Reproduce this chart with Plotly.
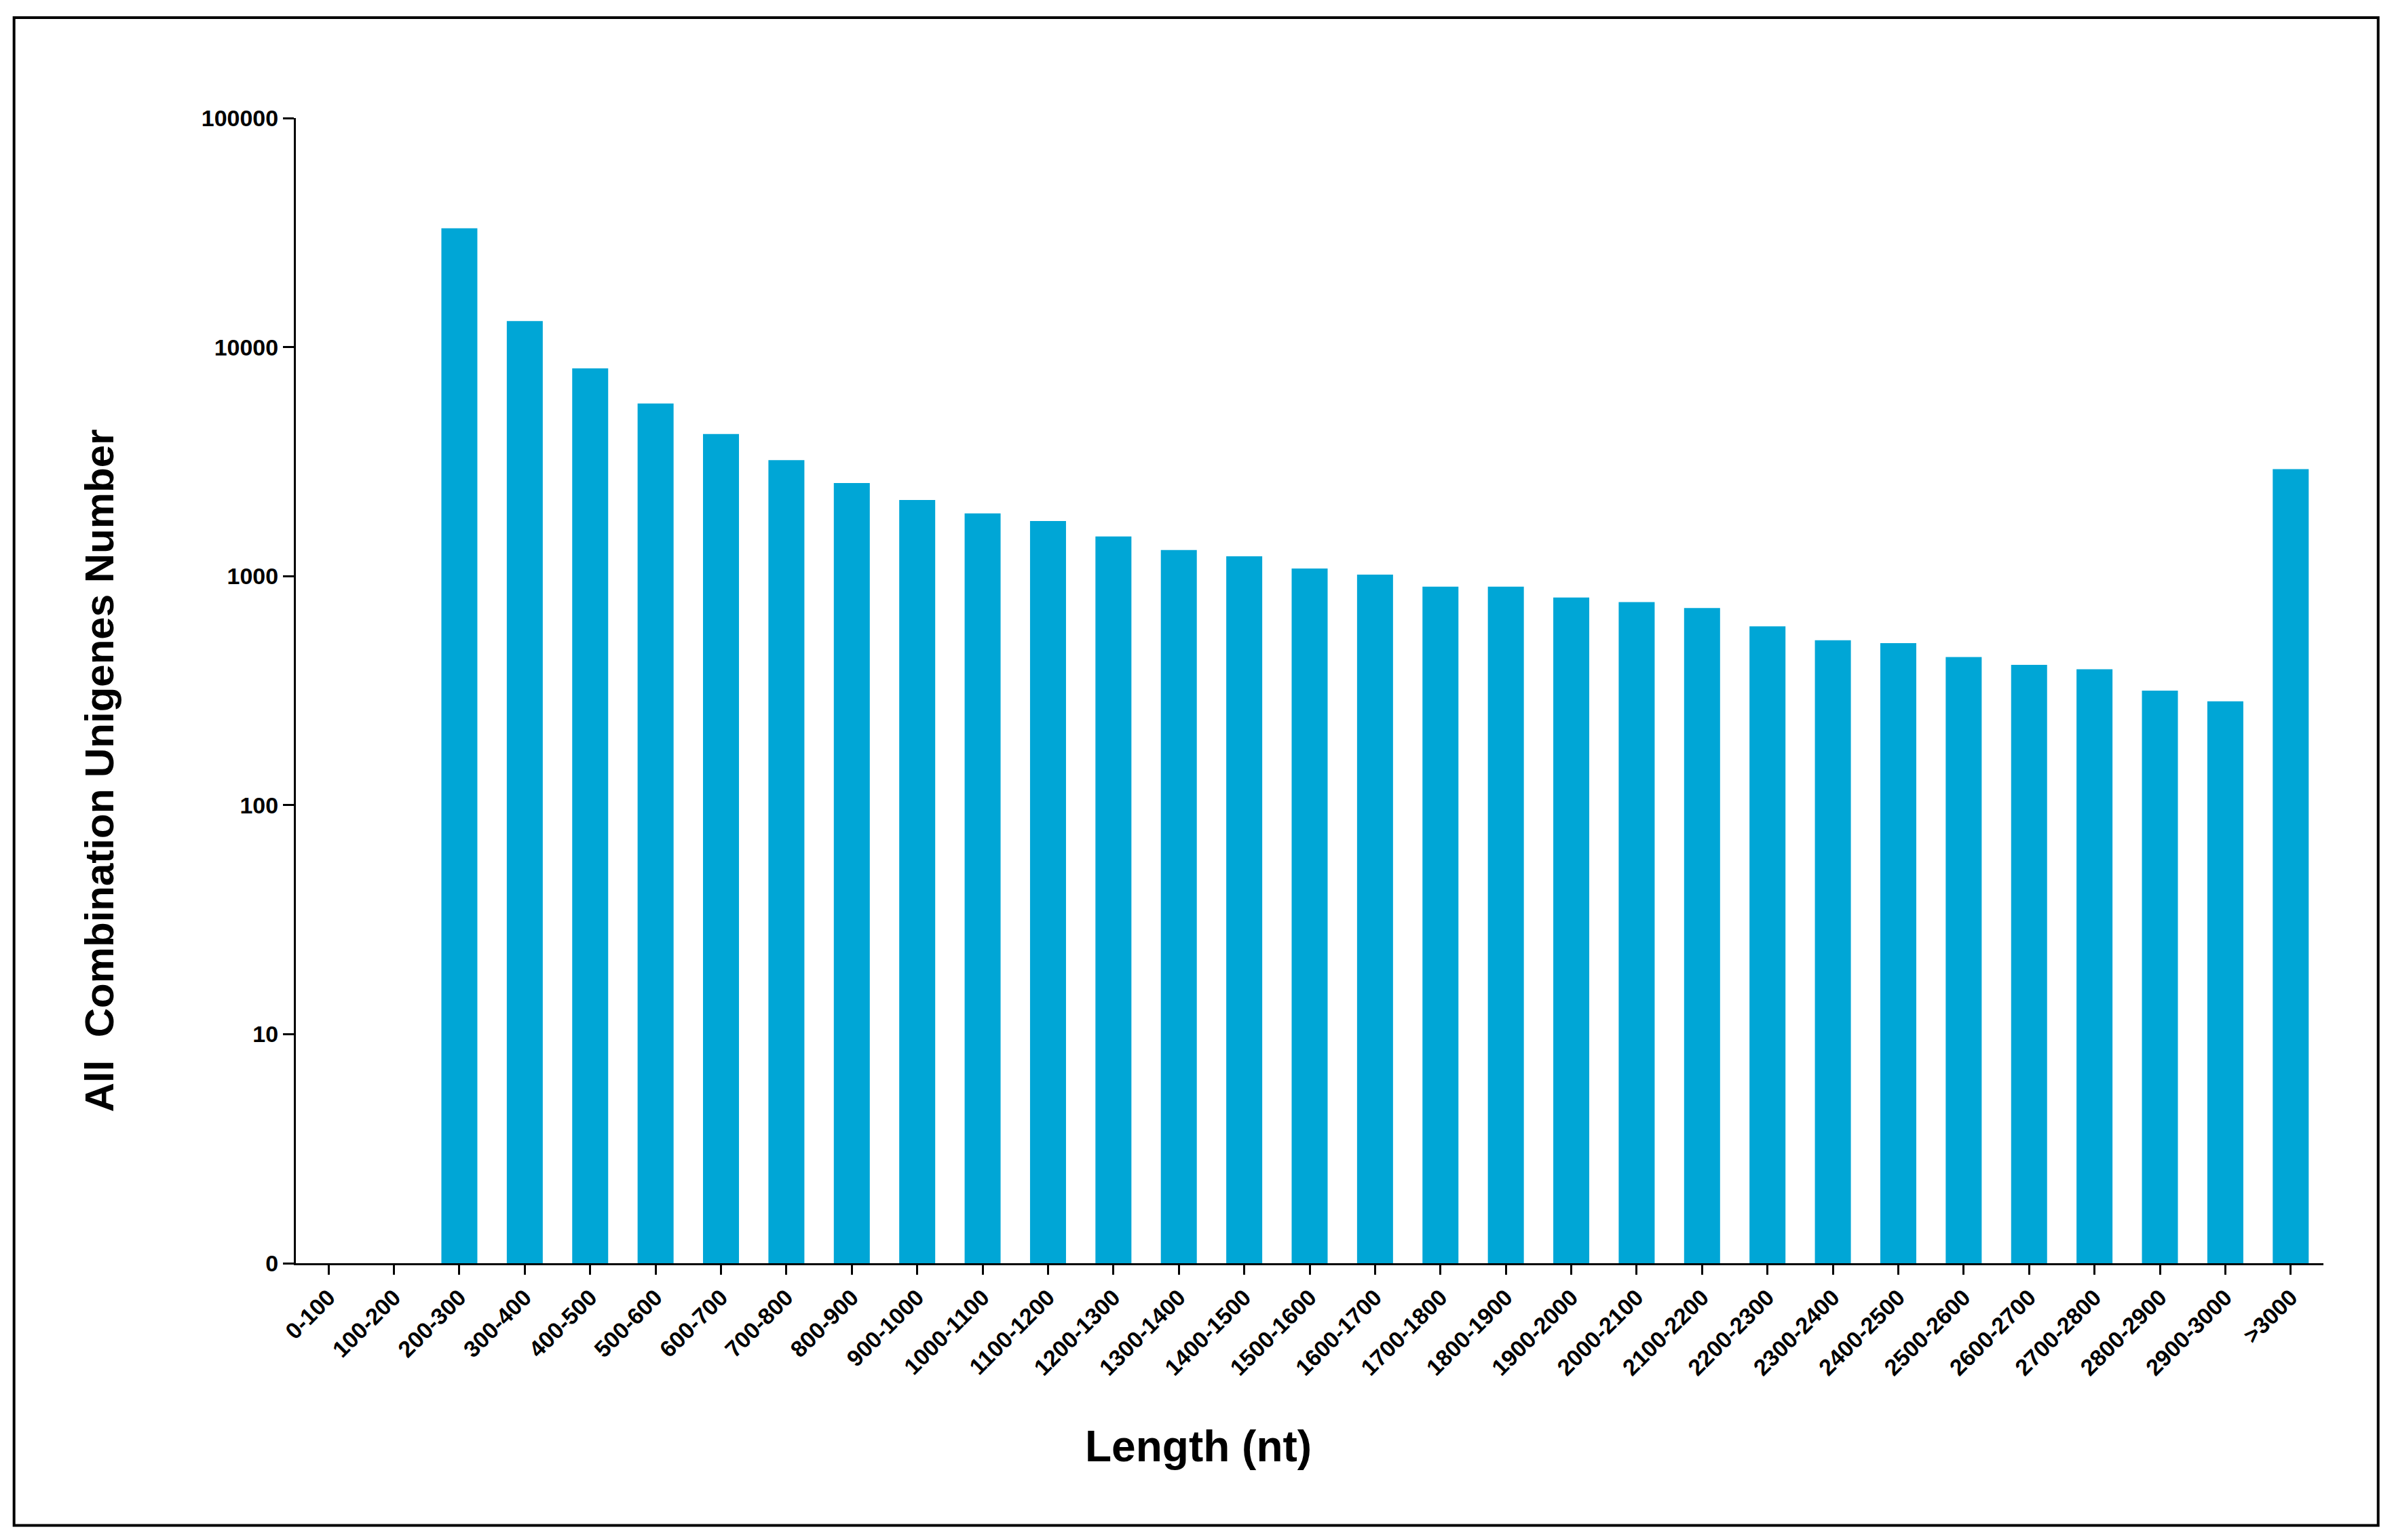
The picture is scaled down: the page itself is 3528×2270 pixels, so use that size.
import plotly.graph_objects as go

categories = ["0-100","100-200","200-300","300-400","400-500","500-600","600-700","700-800",
              "800-900","900-1000","1000-1100","1100-1200","1200-1300","1300-1400","1400-1500",
              "1500-1600","1600-1700","1700-1800","1800-1900","1900-2000","2000-2100","2100-2200",
              "2200-2300","2300-2400","2400-2500","2500-2600","2600-2700","2700-2800","2800-2900",
              "2900-3000",">3000"]
values = [None, None, 33000, 13000, 8070, 5670, 4170, 3210, 2550, 2150, 1880, 1740, 1490, 1300,
          1220, 1080, 1015, 900, 900, 806, 770, 725, 603, 525, 510, 443, 410, 392, 316, 284, 2930]
tick_vals = [1, 10, 100, 1000, 10000, 100000]
tick_text = ["0", "10", "100", "1000", "10000", "100000"]

FONT = "Liberation Sans Narrow, Liberation Sans, Arial"
fig = go.Figure(go.Bar(x=categories, y=values, marker_color="#00A6D6", marker_line_width=0))
fig.update_layout(
    width=3528, height=2270, paper_bgcolor="white", plot_bgcolor="white",
    margin=dict(l=428, r=112, t=166, b=416), bargap=0.45, showlegend=False,
    font=dict(family=FONT, color="black"),
    xaxis=dict(showline=True, linecolor="black", linewidth=3, ticks="outside", ticklen=14,
               tickwidth=3, tickcolor="black", tickangle=-45,
               tickfont=dict(size=34, family=FONT, weight="bold")),
    yaxis=dict(type="log", range=[0, 5], tickvals=tick_vals, ticktext=tick_text,
               showline=True, linecolor="black", linewidth=3, ticks="outside", ticklen=16,
               tickwidth=3, tickcolor="black", showgrid=False, zeroline=False,
               tickfont=dict(size=34, family=FONT, weight="bold")),
    shapes=[dict(type="rect", xref="paper", yref="paper", x0=-0.139, x1=1.027,
                 y0=-0.229, y1=1.0877, line=dict(color="black", width=4))],
    annotations=[
        dict(text="<b>Length (nt)</b>", xref="paper", yref="paper", x=0.445, y=-0.16,
             showarrow=False, font=dict(size=64, family=FONT), yanchor="middle"),
        dict(text="<b>All  Combination Unigenes Number</b>", xref="paper", yref="paper",
             x=-0.097, y=0.43, textangle=-90, showarrow=False,
             font=dict(size=60, family=FONT), xanchor="center", yanchor="middle"),
    ],
)
fig.write_html("out.html")
